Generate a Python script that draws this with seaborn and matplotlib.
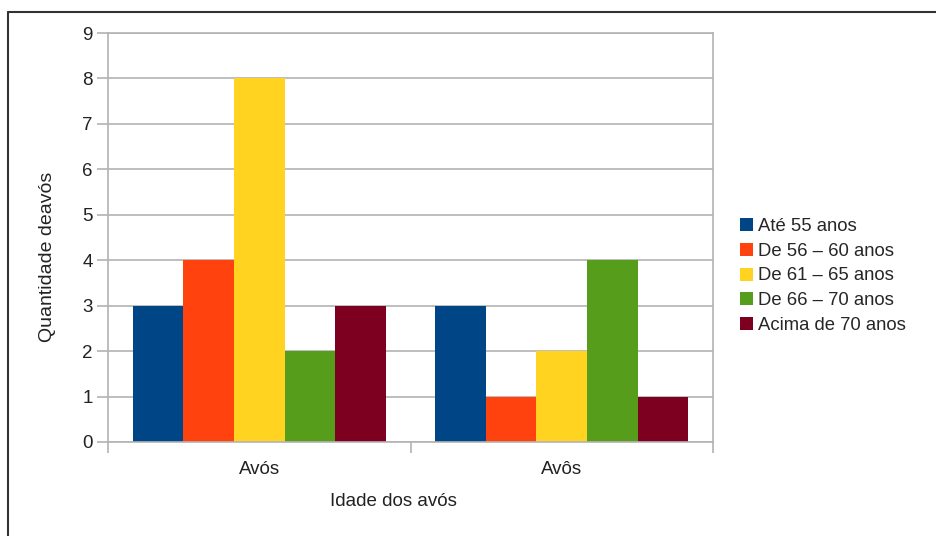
import matplotlib
matplotlib.use("Agg")
import matplotlib.pyplot as plt
import seaborn as sns
import pandas as pd
from matplotlib.lines import Line2D
from matplotlib.patches import Patch

# Data
groups = ["Avós", "Avôs"]
age_ranges = ["Até 55 anos", "De 56 – 60 anos", "De 61 – 65 anos",
              "De 66 – 70 anos", "Acima de 70 anos"]
avos_f = [3, 4, 8, 2, 3]
avos_m = [3, 1, 2, 4, 1]
colors = ["#004586", "#ff420e", "#ffd320", "#579d1c", "#7e0021"]

df = pd.DataFrame({
    "grupo": [groups[0]] * len(age_ranges) + [groups[1]] * len(age_ranges),
    "faixa": age_ranges * 2,
    "quantidade": avos_f + avos_m,
})

sns.set_theme(style="white")
plt.rcParams["font.family"] = ["Liberation Sans", "DejaVu Sans"]

fig = plt.figure(figsize=(9.36, 5.36), dpi=100)
ax = fig.add_axes([108 / 936, 1 - 442 / 536, (713 - 108) / 936, (442 - 33) / 536])

sns.barplot(data=df, x="grupo", y="quantidade", hue="faixa",
            order=groups, hue_order=age_ranges, palette=colors,
            width=0.835, saturation=1, linewidth=0, ax=ax, legend=False)

grid_c = "#b3b3b3"
text_c = "#222222"
ax.set_xlim(-0.5, 1.5)
ax.set_ylim(0, 9)
ax.set_yticks(range(0, 10))
ax.yaxis.grid(True, color=grid_c, linewidth=1.2)
ax.set_axisbelow(True)
for s in ax.spines.values():
    s.set_color(grid_c)
    s.set_linewidth(1.2)

ax.tick_params(axis="y", length=8, width=1.2, color=grid_c, labelsize=13.5,
               labelcolor=text_c, pad=3, left=True)
ax.set_xticks([0, 1])
ax.set_xticklabels(groups)
ax.set_xticks([-0.5, 0.5, 1.5], minor=True)
ax.tick_params(axis="x", which="major", length=0, labelsize=13.5,
               labelcolor=text_c, pad=14)
ax.tick_params(axis="x", which="minor", length=8, width=1.2, color=grid_c,
               bottom=True)
ax.set_xlabel("")
ax.set_ylabel("")

fig.text(393 / 936, 1 - 502 / 536, "Idade dos avós", ha="center", va="center",
         fontsize=13.5, color=text_c)
fig.text(48 / 936, 1 - 257 / 536, "Quantidade deavós", ha="center", va="center",
         rotation=90, fontsize=14, color=text_c)

handles = [Patch(facecolor=c, edgecolor="none") for c in colors]
fig.legend(handles, age_ranges, loc="center left",
           bbox_to_anchor=(740 / 936, 1 - 276 / 536), frameon=False,
           fontsize=13.3, handlelength=0.7, handleheight=0.7,
           handletextpad=0.3, labelspacing=0.42, borderpad=0,
           borderaxespad=0)

# Outer frame (left and top edges)
fig.add_artist(Line2D([8 / 936, 8 / 936], [0, 1 - 12 / 536],
                      transform=fig.transFigure, color="#333333", linewidth=1.5))
fig.add_artist(Line2D([8 / 936, 1], [1 - 12 / 536, 1 - 12 / 536],
                      transform=fig.transFigure, color="#333333", linewidth=1.5))

fig.savefig("out.png", dpi=100, facecolor="white")
